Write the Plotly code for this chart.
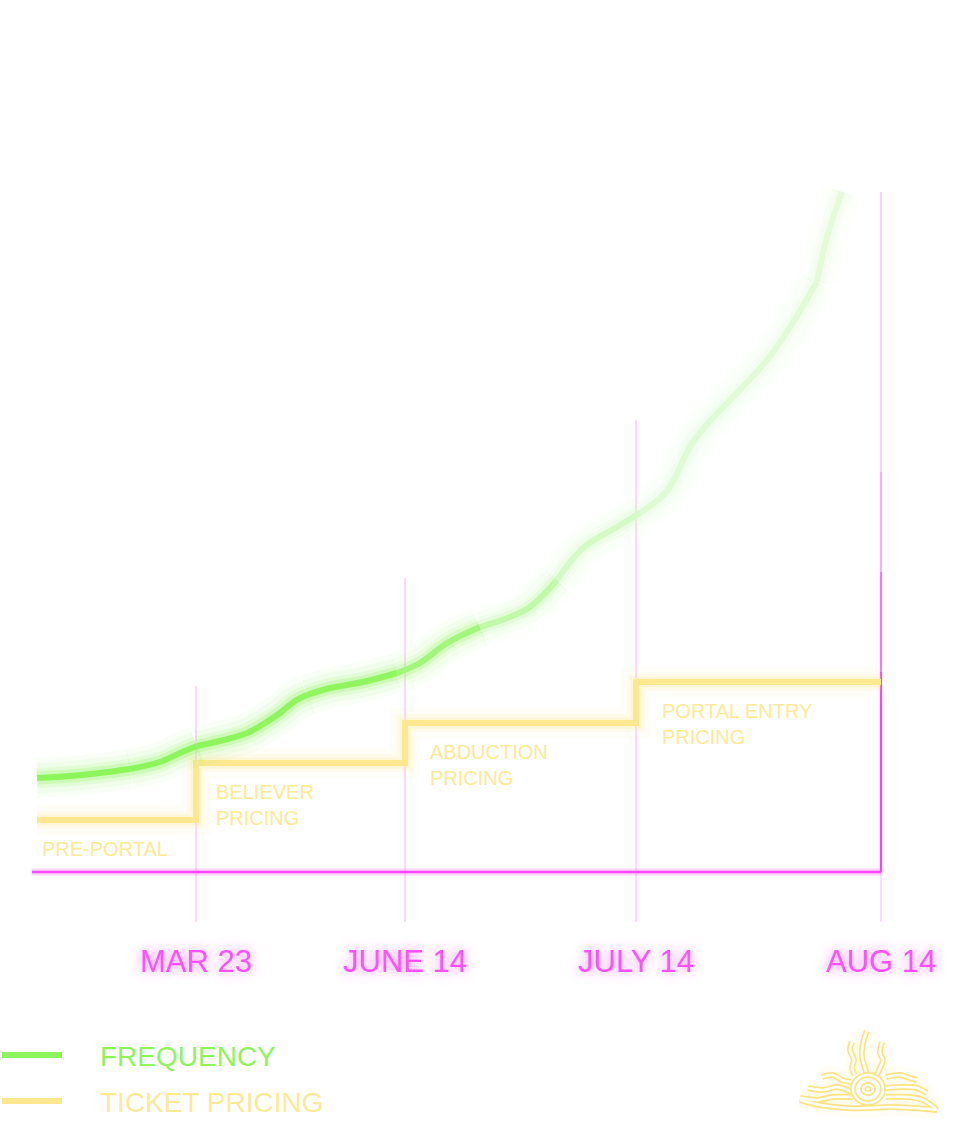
import numpy as np
import plotly.graph_objects as go

# ---------------- data ----------------
phase_dates = ["MAR 23", "JUNE 14", "JULY 14", "AUG 14"]
phase_pos = [196, 405, 636, 881]          # timeline position of each date marker
marker_tops = [186, 294, 452, 680]        # height reached by each date marker line

price_x = [37, 196, 405, 636, 881]
price_y = [52, 109, 149, 190, 190]
price_names = ["PRE-PORTAL", "BELIEVER<br>PRICING", "ABDUCTION<br>PRICING", "PORTAL ENTRY<br>PRICING"]

freq_x = [37, 70, 100, 130, 160, 180, 197, 220, 247, 265, 280, 295, 307, 330, 363, 397, 420,
          447, 480, 510, 530, 557, 583, 617, 640, 667, 693, 727, 767, 790, 817, 827, 842]
freq_y = [94, 96, 99, 103, 110, 119, 126, 131, 139, 149, 159, 171, 177, 184, 190, 199, 209,
          229, 245, 255, 265, 292, 324, 345, 359, 381, 430, 469, 512, 545, 590, 635, 680]

legend_labels = ["FREQUENCY", "TICKET PRICING"]

# ---------------- style ----------------
H = 1139
BASE = 872          # pixel row of the zero line
def yv(py):         # pixel row -> y value (for decorations only)
    return BASE - py

GREEN = (140, 245, 90)
YELLOW = "rgb(253,231,143)"
YELLOW_TXT = "rgb(253,234,150)"
MAGENTA = "rgb(255,70,255)"
PALE_PINK = "rgb(255,190,255)"

fig = go.Figure()

# green gradient stops (by x)
stop_x = [37, 400, 470, 560, 650, 842]
stop_c = [(140, 245, 90), (145, 246, 96), (178, 248, 145), (205, 250, 188), (222, 251, 210), (228, 252, 218)]

def gcol(x, a=1.0):
    r = np.interp(x, stop_x, [c[0] for c in stop_c])
    g = np.interp(x, stop_x, [c[1] for c in stop_c])
    b = np.interp(x, stop_x, [c[2] for c in stop_c])
    return f"rgba({int(r)},{int(g)},{int(b)},{a})"

# ---------- date marker lines ----------
for i, (xp, top) in enumerate(zip(phase_pos, marker_tops)):
    if i < 3:
        fig.add_trace(go.Scatter(x=[xp, xp], y=[-50, top], mode="lines",
                                 line=dict(color=PALE_PINK, width=1.2), hoverinfo="skip"))
    else:
        segs = [(-50, 0, "rgb(255,205,255)", 1.4), (0, 200, "rgb(255,60,255)", 2.2),
                (200, 300, "rgb(255,110,255)", 2), (300, 400, "rgb(255,160,255)", 1.8),
                (400, top, "rgb(255,200,255)", 1.8)]
        for y0, y1, c, w in segs:
            fig.add_trace(go.Scatter(x=[xp, xp], y=[y0, y1], mode="lines",
                                     line=dict(color=c, width=w), hoverinfo="skip"))

# baseline
fig.add_trace(go.Scatter(x=[32, phase_pos[-1]], y=[0, 0], mode="lines",
                         line=dict(color="rgba(255,90,255,0.25)", width=7), hoverinfo="skip"))
fig.add_trace(go.Scatter(x=[32, phase_pos[-1]], y=[0, 0], mode="lines",
                         line=dict(color=MAGENTA, width=2.5), hoverinfo="skip"))

# ---------- ticket pricing (stepped) ----------
for w, a in [(30, 0.07), (18, 0.12), (11, 0.22)]:
    fig.add_trace(go.Scatter(x=price_x, y=price_y, mode="lines", line_shape="hv",
                             line=dict(color=f"rgba(253,231,143,{a})", width=w), hoverinfo="skip"))
fig.add_trace(go.Scatter(x=price_x, y=price_y, mode="lines", line_shape="hv",
                         line=dict(color=YELLOW, width=6), hoverinfo="skip"))

# ---------- frequency (gradient + glow) ----------
n = len(freq_x)
groups = []
i = 0
while i < n - 1:
    j = min(i + 3, n - 1)
    groups.append((i, j))
    i = j
for w, a in [(40, 0.05), (30, 0.08), (20, 0.14), (13, 0.25)]:
    for (i0, i1) in groups:
        xs = freq_x[i0:i1 + 1]
        ys = freq_y[i0:i1 + 1]
        fig.add_trace(go.Scatter(x=xs, y=ys, mode="lines", line_shape="spline",
                                 line=dict(color=gcol(np.mean(xs), a), width=w), hoverinfo="skip"))
for (i0, i1) in groups:
    xs = freq_x[i0:i1 + 1]
    ys = freq_y[i0:i1 + 1]
    fig.add_trace(go.Scatter(x=xs, y=ys, mode="lines", line_shape="spline",
                             line=dict(color=gcol(np.mean(xs)), width=6), hoverinfo="skip"))

annotations = []
# phase labels
offs = [3, 18, 23, 24]
for k, name in enumerate(price_names):
    annotations.append(dict(x=price_x[k] + offs[k], y=price_y[k] - 16, xref="x", yref="y",
                            text=name, showarrow=False, xanchor="left", yanchor="top", align="left",
                            font=dict(family="Liberation Sans, Arial", size=20, color=YELLOW_TXT)))
# date labels
for xp, lab in zip(phase_pos, phase_dates):
    annotations.append(dict(x=xp, y=yv(961), xref="x", yref="y", text=lab, showarrow=False,
                            xanchor="center", yanchor="middle",
                            font=dict(family="Liberation Sans Narrow, Arial Narrow, Liberation Sans, sans-serif",
                                      size=31, color="rgb(255,80,255)",
                                      shadow="0px 0px 12px rgba(255,120,255,0.9)")))

# ---------- legend ----------
leg_cols = [f"rgb{GREEN}", YELLOW]
leg_txt_cols = [f"rgb{GREEN}", YELLOW_TXT]
leg_rows = [1055, 1101]
for lab, c, tc, row in zip(legend_labels, leg_cols, leg_txt_cols, leg_rows):
    fig.add_trace(go.Scatter(x=[2, 62], y=[yv(row), yv(row)], mode="lines",
                             line=dict(color=c, width=6), hoverinfo="skip"))
    annotations.append(dict(x=98, y=yv(row + 1), xref="x", yref="y", text=lab, showarrow=False,
                            xanchor="left", yanchor="middle",
                            font=dict(family="Liberation Sans, Arial", size=28, color=tc)))

# ---------- logo (decoration) ----------
logo_paths = [
    [(867, 1031), (863, 1043), (862, 1057), (865, 1068), (867, 1075)],
    [(852, 1042), (850, 1050), (854, 1060), (852, 1068), (855, 1075)],
    [(882, 1042), (880, 1053), (883, 1060), (880, 1068), (877, 1075)],
    [(822, 1077), (833, 1075), (842, 1080), (851, 1082)],
    [(808, 1088), (823, 1090), (837, 1087), (852, 1092)],
    [(800, 1098), (817, 1100), (833, 1097), (853, 1097)],
    [(800, 1100), (820, 1105), (847, 1108), (870, 1108), (890, 1107), (913, 1108), (937, 1110)],
    [(886, 1077), (900, 1075), (910, 1078), (917, 1080)],
    [(886, 1088), (903, 1087), (917, 1088), (927, 1093)],
    [(886, 1097), (907, 1097), (923, 1100), (937, 1110)],
]
for w, c in [(18, "rgba(253,225,120,0.07)"), (6, "rgb(253,228,130)"), (2.6, "white")]:
    for p in logo_paths:
        fig.add_trace(go.Scatter(x=[q[0] for q in p], y=[yv(q[1]) for q in p], mode="lines",
                                 line_shape="spline", line=dict(color=c, width=w), hoverinfo="skip"))

shapes = []
for r in (15, 5):
    for w, c in [(6, "rgb(253,228,130)"), (2.6, "white")]:
        shapes.append(dict(type="circle", xref="x", yref="y", x0=868 - r, x1=868 + r,
                           y0=yv(1089 + r - 1), y1=yv(1089 - r + 1), line=dict(color=c, width=w)))

fig.update_layout(
    width=960, height=H, margin=dict(l=0, r=0, t=0, b=0),
    paper_bgcolor="white", plot_bgcolor="white", showlegend=False,
    xaxis=dict(range=[0, 960], visible=False, fixedrange=True),
    yaxis=dict(range=[BASE - H, BASE], visible=False, fixedrange=True),
    annotations=annotations, shapes=shapes, hovermode=False,
)

fig.write_html("out.html")
